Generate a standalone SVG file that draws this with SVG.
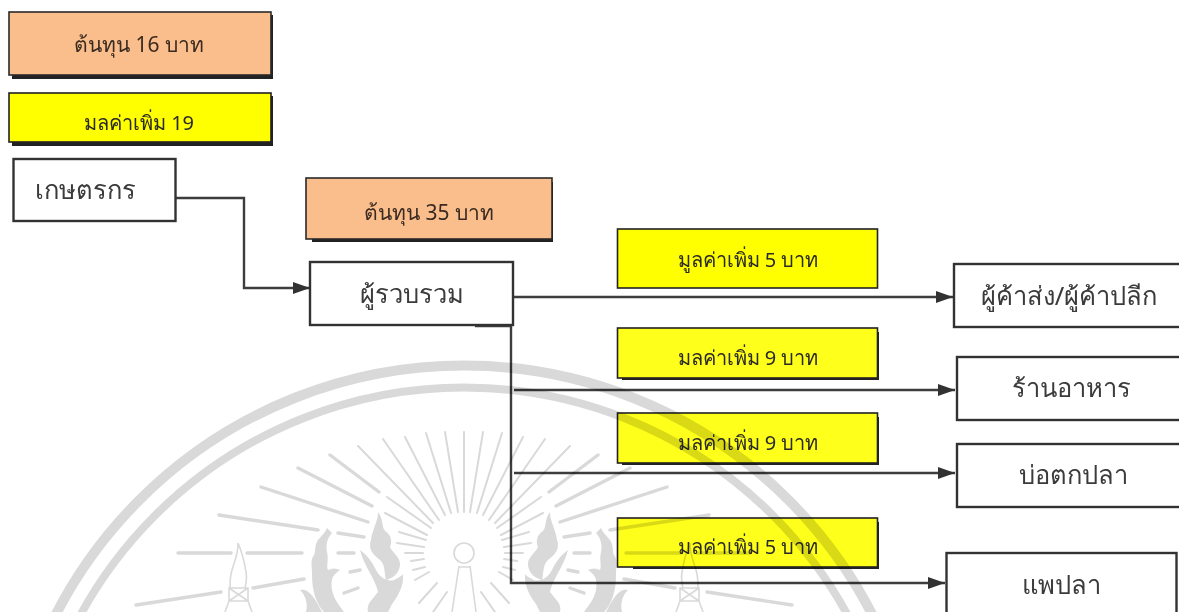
<svg xmlns="http://www.w3.org/2000/svg" xmlns:xlink="http://www.w3.org/1999/xlink" width="1179" height="612" viewBox="0 0 1179 612">
<style>
text{font-family:"Noto Sans","DejaVu Sans","Liberation Sans",sans-serif;fill:#2a2a2a}
.c{text-anchor:middle}
.sm{font-size:20px}
.cost{font-size:21px;fill:#3a2a20}
.lg{font-size:25.500px;fill:#3a3a3a}
.box{fill:#fff;stroke:#333;stroke-width:2.400}
.or{fill:#f9be8c;stroke:#2a2a2a;stroke-width:1.600}
.ye{fill:#ff0;stroke:#222;stroke-width:1.600}
.ye2{fill:#ffff1a;stroke:#222;stroke-width:1.600}
.sh{fill:#222}
.ln{fill:none;stroke:#3c3c3c;stroke-width:2.400}
.wm{mix-blend-mode:multiply}
.rg{fill:none;stroke:#d9d9d9}
.thin{fill:none;stroke:#d9d9d9;stroke-width:1.600}
.ray{fill:none;stroke:#d9d9d9;stroke-width:3.400;stroke-linecap:round}
.ray2{fill:none;stroke:#d9d9d9;stroke-width:2;stroke-linecap:round}
</style>
<defs>
<filter id="soft" x="0" y="0" width="100%" height="100%"><feGaussianBlur stdDeviation="0.450"/></filter>
<marker id="ah" markerUnits="userSpaceOnUse" markerWidth="18" markerHeight="14" refX="17" refY="7" orient="auto"><path d="M0,1 L17,7 L0,13 Z" fill="#333"/></marker>
<g id="half">
<path class="ray" d="M178,553H231M247,553H302M219,515L318,530M261,487L368,522M298,468L372,506M330,455L379,492M136,605L221,592M253,588L304,579M338,533L364,537M338,553L354,553M350,572L360,570M344,593L358,588"/>
<path class="ray2" d="M445,432L458,512M426,433L451,513M405,437L445,515M383,439L439,520M358,446L433,523M387,497L431,528M385,513L427,535M399,532L426,540M397,543L424,547M405,553L423,553M411,561L424,559M413,570L425,567M415,580L429,572M419,603L437,583M433,612L447,592"/>
<path fill="#d9d9d9" d="M378,512C384,520 381,526 385,531C390,534 393,540 390,547C393,553 400,557 400,564C400,572 394,578 386,580C384,574 386,566 380,560C372,554 368,548 371,540C372,530 378,522 378,512Z"/>
<path fill="#d9d9d9" d="M360,550C368,556 372,562 376,570C380,578 388,582 394,580C398,578 402,576 403,574C404,586 398,596 392,604L388,612H368C366,604 372,600 378,592C376,580 364,566 360,550Z"/>
<path fill="#d9d9d9" d="M327,528L332,533C326,540 326,546 327,552C329,560 326,566 328,570C332,568 336,568 340,570C334,574 330,578 332,590C334,600 340,606 344,612H324C316,604 312,590 312,575C312,565 310,560 314,555C316,552 314,546 318,540C321,536 325,533 327,528Z"/>
<path fill="#d9d9d9" d="M300,590C308,588 314,596 322,612H306C308,604 306,596 300,590Z"/>
<path class="thin" d="M238,543C242,552 244,560 246,572C247,578 246,584 245,588H230C230,582 230,576 232,570C234,562 238,556 238,543ZM229,588H248V601H229ZM229,588L248,601M248,588L229,601M229,601L225,612M248,601L252,612"/>
</g>
</defs>
<g filter="url(#soft)">
<rect width="1179" height="612" fill="#fff"/>
<g id="connectors">
<path class="ln" d="M176,198H244V288H310" marker-end="url(#ah)"/>
<path class="ln" d="M513,297H953" marker-end="url(#ah)"/>
<path class="ln" d="M511,325V583H945" marker-end="url(#ah)"/>
<path class="ln" d="M514,390H955" marker-end="url(#ah)"/>
<path class="ln" d="M514,473H955" marker-end="url(#ah)"/>
<path class="ln" d="M475,326H512"/>
</g>
<g id="cost-16"><rect class="sh" x="12" y="15" width="261" height="64"/><rect class="or" x="9" y="12" width="262" height="63"/><text class="cost c" x="139" y="52">ต้นทุน 16 บาท</text></g>
<g id="value-19"><rect class="sh" x="12" y="96" width="261" height="50"/><rect class="ye" x="9" y="93" width="262" height="49"/><text class="sm c" x="139" y="130">มลค่าเพิ่ม 19</text></g>
<g id="farmer"><rect class="box" x="13.500" y="159" width="162" height="62"/><text class="lg" x="35" y="199">เกษตรกร</text></g>
<g id="cost-35"><rect class="sh" x="312" y="182" width="241" height="60"/><rect class="or" x="306" y="178" width="246" height="61"/><text class="cost c" x="429" y="220">ต้นทุน 35 บาท</text></g>
<g id="collector"><rect class="box" x="310" y="262" width="203" height="63"/><text class="lg c" x="411.500" y="303">ผู้รวบรวม</text></g>
<g id="value-5a"><rect class="ye" x="617.500" y="229" width="260" height="59"/><text class="sm c" x="748" y="267">มูลค่าเพิ่ม 5 บาท</text></g>
<g id="value-9a"><rect class="sh" x="622" y="332" width="257" height="48"/><rect class="ye2" x="617.500" y="328" width="260" height="50"/><text class="sm c" x="748" y="365">มลค่าเพิ่ม 9 บาท</text></g>
<g id="value-9b"><rect class="sh" x="622" y="417" width="257" height="48"/><rect class="ye2" x="617.500" y="413" width="260" height="50"/><text class="sm c" x="748" y="450">มลค่าเพิ่ม 9 บาท</text></g>
<g id="value-5b"><rect class="sh" x="633" y="522" width="246" height="47"/><rect class="ye2" x="617.500" y="518" width="260" height="49"/><text class="sm c" x="748" y="554">มลค่าเพิ่ม 5 บาท</text></g>
<g id="wholesale"><rect class="box" x="954" y="264" width="240" height="63"/><text class="lg c" x="1069" y="305">ผู้ค้าส่ง/ผู้ค้าปลีก</text></g>
<g id="restaurant"><rect class="box" x="957" y="357" width="240" height="63"/><text class="lg c" x="1071.500" y="397">ร้านอาหาร</text></g>
<g id="fishing-pond"><rect class="box" x="957" y="444" width="240" height="63"/><text class="lg c" x="1073" y="484">บ่อตกปลา</text></g>
<g id="raft"><rect class="box" x="946.500" y="553" width="230" height="80"/><text class="lg c" x="1061.500" y="594">แพปลา</text></g>
<g id="watermark" class="wm">
<circle class="rg" cx="464" cy="824.500" r="459" stroke-width="10"/>
<circle class="rg" cx="464" cy="824.500" r="437" stroke-width="8"/>
<use xlink:href="#half" href="#half"/>
<use xlink:href="#half" href="#half" transform="translate(928 0) scale(-1 1)"/>
<path class="ray2" d="M464,432V512"/>
<circle class="thin" cx="464" cy="553" r="10"/>
<path class="thin" d="M459,566L452,612M470,566L476,612M458,567H470"/>
</g>
</g>
</svg>
